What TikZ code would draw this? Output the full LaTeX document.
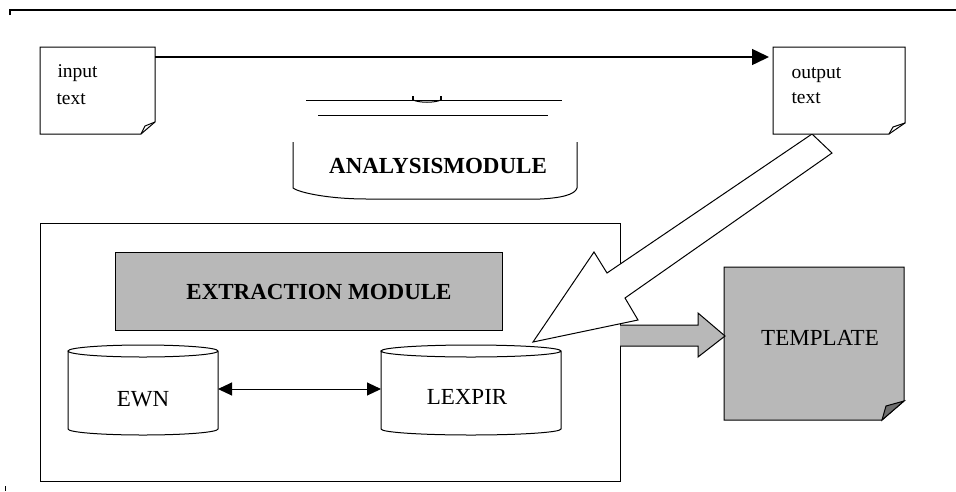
\documentclass[tikz,border=0pt]{standalone}
\usepackage{fontspec}
\setmainfont{Liberation Serif}
\usetikzlibrary{arrows.meta}
\definecolor{ht}{gray}{0.72}
\begin{document}
\begin{tikzpicture}[x=1pt,y=-1pt,line width=1pt,
  frame/.style={inner sep=0pt,outer sep=0pt},
  small/.style={font=\fontsize{19.5}{23}\selectfont,inner sep=0pt,anchor=base west},
  bigb/.style={font=\bfseries\fontsize{23}{27}\selectfont,inner sep=0pt},
  bigr/.style={font=\fontsize{23}{27}\selectfont,inner sep=0pt},
  graybox/.style={draw,fill=ht},
  tipA/.style={-{Triangle[length=17pt,width=16pt]}},
  tipB/.style={{Triangle[length=14pt,width=13pt]}-{Triangle[length=14pt,width=13pt]}}]
\useasboundingbox (0,0) rectangle (956,491);

% frame line at the top
\coordinate (tl) at (10,15);
\coordinate (tlc) at (10,10);
\coordinate (tr) at (956,10);
\draw[line width=1.3pt] (tl) -- (tlc) -- (tr);
\coordinate (bl1) at (5,486);
\coordinate (bl2) at (5,491);
\draw (bl1) -- (bl2);

% analysis module (broken cylinder)
\coordinate (a1) at (306,100);
\coordinate (a2) at (562,100);
\coordinate (a3) at (318,115);
\coordinate (a4) at (548,115);
\draw (a1) -- (a2);
\draw (a3) -- (a4);
\draw[line width=2.5pt] (413,96) -- (413,100);
\draw[line width=2.5pt] (441,96) -- (441,100);
\draw (413,100) .. controls (420,103) and (434,103) .. (441,100);
\draw (293,142) -- (293,188) .. controls (300,193) and (330,199) .. (367,199)
  -- (540,199) .. controls (560,198) and (575,195) .. (577,188) -- (577,142);
\node[bigb] (ana) at (438,166) {ANALYSISMODULE};

% extraction area
\node[frame,draw,minimum width=580pt,minimum height=258pt] (ext) at (330,352) {};
\node[frame,graybox,minimum width=387pt,minimum height=78pt] (em) at (308.5,291) {};
\node[bigb] (emT) at (319,292) {EXTRACTION MODULE};

% cylinders
\node[frame,minimum width=150pt,minimum height=90pt] (ewn) at (143,390) {};
\node[frame,minimum width=180pt,minimum height=90pt] (lex) at (471,390) {};
\draw ([yshift=-6pt]ewn.north west) -- ([yshift=6pt]ewn.south west)
  arc[start angle=180,end angle=360,x radius=75pt,y radius=6pt]
  -- ([yshift=-6pt]ewn.north east)
  arc[start angle=0,end angle=180,x radius=75pt,y radius=6pt]
  arc[start angle=180,end angle=360,x radius=75pt,y radius=6pt];
\draw ([yshift=-6pt]lex.north west) -- ([yshift=6pt]lex.south west)
  arc[start angle=180,end angle=360,x radius=90pt,y radius=6pt]
  -- ([yshift=-6pt]lex.north east)
  arc[start angle=0,end angle=180,x radius=90pt,y radius=6pt]
  arc[start angle=180,end angle=360,x radius=90pt,y radius=6pt];
\node[bigr] (ewnT) at (143,399) {EWN};
\node[bigr] (lexT) at (467,397) {LEXPIR};
\draw[tipB] ([yshift=1pt]ewn.east) -- ([yshift=1pt]lex.west);

% big hollow arrow from output text to LEXPIR
\coordinate (hTip) at (533,342);
\coordinate (hB1) at (594,252);
\coordinate (hN1) at (607,273);
\coordinate (hE1) at (812,134);
\coordinate (hE2) at (832,153);
\coordinate (hN2) at (625,298);
\coordinate (hB2) at (638,320);
\draw[fill=white,line join=miter] (hTip) -- (hB1) -- (hN1) -- (hE1) -- (hE2) -- (hN2) -- (hB2) -- cycle;

% input / output documents
\node[frame,minimum width=115pt,minimum height=87pt] (in) at (97.5,90.5) {};
\draw[fill=white] (in.north west) -- (in.north east) -- ([yshift=12pt]in.south east)
  -- ([xshift=-14pt]in.south east) -- (in.south west) -- cycle;
\draw ([xshift=-14pt]in.south east) -- ([xshift=-10pt,yshift=8pt]in.south east) -- ([yshift=12pt]in.south east);
\node[small] (inA) at (57,77) {input};
\node[small] (inB) at (56,104) {text};

\node[frame,minimum width=132pt,minimum height=87pt] (out) at (839,90.5) {};
\draw[fill=white] (out.north west) -- (out.north east) -- ([yshift=11pt]out.south east)
  -- ([xshift=-16pt]out.south east) -- (out.south west) -- cycle;
\draw ([xshift=-16pt]out.south east) -- ([xshift=-12pt,yshift=7pt]out.south east) -- ([yshift=11pt]out.south east);
\node[small] (outA) at (791,78) {output};
\node[small] (outB) at (791,103) {text};

\draw[tipA,line width=1.5pt] ([yshift=-10pt]in.north east) -- ([xshift=-4pt,yshift=-10pt]out.north west);

% template document and gray arrow
\node[frame,minimum width=180pt,minimum height=153pt] (tpl) at (814,343.5) {};
\draw[fill=ht] (tpl.north west) -- (tpl.north east) -- ([yshift=19pt]tpl.south east)
  -- ([xshift=-22pt]tpl.south east) -- (tpl.south west) -- cycle;
\draw[fill=ht!60!black] ([xshift=-22pt]tpl.south east) -- ([xshift=-18pt,yshift=14pt]tpl.south east) -- ([yshift=19pt]tpl.south east) -- cycle;
\node[bigr] (tplT) at (820,338) {TEMPLATE};

\coordinate (gS1) at (620,325);
\coordinate (gS2) at (620,346);
\draw[fill=ht] (gS1) -- (698,325) -- (698,313) -- (725,336) -- (698,357) -- (698,346) -- (gS2);
\end{tikzpicture}
\end{document}
